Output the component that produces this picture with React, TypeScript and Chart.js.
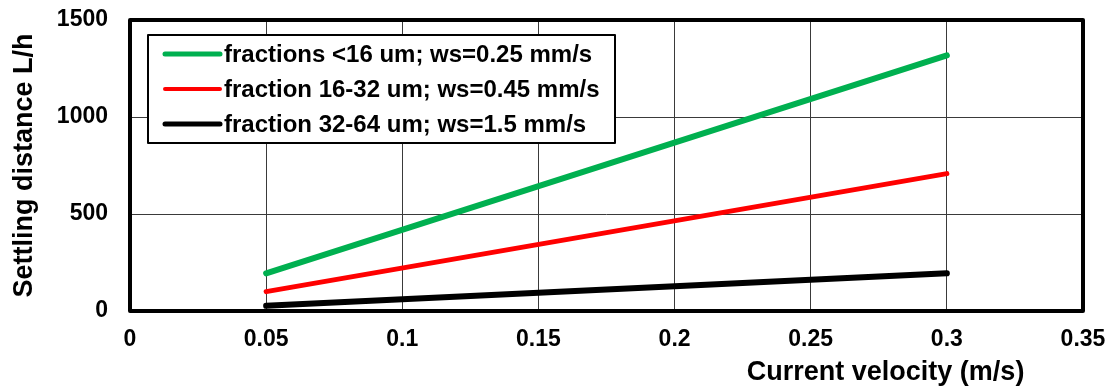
import React, { useEffect, useRef } from "react";
import { Chart, registerables } from "chart.js";

Chart.register(...registerables);

const xValues = [0.05, 0.3];
const greenValues = [194, 1318];
const redValues = [100, 708];
const blackValues = [27, 194];
const seriesLabels = [
  "fractions <16 um; ws=0.25 mm/s",
  "fraction 16-32 um; ws=0.45 mm/s",
  "fraction 32-64 um; ws=1.5 mm/s",
];
const seriesColors = ["#00B050", "#FF0000", "#000000"];
const seriesWidths = [6, 5, 6];
const xTickLabels = ["0", "0.05", "0.1", "0.15", "0.2", "0.25", "0.3", "0.35"];
const yTickLabels = ["0", "500", "1000", "1500"];
const xTitle = "Current velocity (m/s)";
const yTitle = "Settling distance L/h";

const FONT = "Arial, 'Liberation Sans', sans-serif";

const frameAndLegend = {
  id: "frameAndLegend",
  afterDraw(chart: any) {
    const { ctx, chartArea } = chart;
    ctx.save();
    // plot frame
    ctx.strokeStyle = "#000";
    ctx.lineWidth = 4;
    ctx.lineJoin = "round";
    ctx.strokeRect(
      chartArea.left,
      chartArea.top,
      chartArea.right - chartArea.left,
      chartArea.bottom - chartArea.top
    );
    // legend box
    const bx = chartArea.left + 18;
    const by = chartArea.top + 15;
    const bw = 467;
    const bh = 108;
    ctx.fillStyle = "#fff";
    ctx.fillRect(bx, by, bw, bh);
    ctx.lineWidth = 2;
    ctx.strokeRect(bx, by, bw, bh);
    ctx.font = `bold 24px ${FONT}`;
    ctx.textBaseline = "middle";
    ctx.textAlign = "left";
    ctx.lineCap = "round";
    chart.data.datasets.forEach((ds: any, i: number) => {
      const y = by + 19 + i * 35;
      ctx.strokeStyle = ds.borderColor;
      ctx.lineWidth = ds.borderWidth - 1;
      ctx.beginPath();
      ctx.moveTo(bx + 17, y);
      ctx.lineTo(bx + 72, y);
      ctx.stroke();
      ctx.fillStyle = "#000";
      ctx.fillText(ds.label, bx + 76, y + 1);
    });
    // x title
    ctx.font = `bold 27px ${FONT}`;
    ctx.textAlign = "center";
    ctx.textBaseline = "alphabetic";
    ctx.fillStyle = "#000";
    const xs = chart.scales.x;
    ctx.fillText(xTitle, xs.getPixelForValue(0.2775), chartArea.bottom + 69);
    ctx.restore();
  },
};

export default function App() {
  const ref = useRef<HTMLCanvasElement | null>(null);
  useEffect(() => {
    document.body.style.margin = "0";
    const datasets = [greenValues, redValues, blackValues].map((vals, i) => ({
      label: seriesLabels[i],
      data: xValues.map((x, j) => ({ x, y: vals[j] })),
      borderColor: seriesColors[i],
      backgroundColor: seriesColors[i],
      borderWidth: seriesWidths[i],
      borderCapStyle: "round" as const,
      pointRadius: 0,
      fill: false,
      tension: 0,
    }));
    const chart = new Chart(ref.current!, {
      type: "line",
      data: { datasets },
      options: {
        animation: false,
        responsive: true,
        maintainAspectRatio: false,
        layout: { padding: { top: 20, right: 29, left: 0, bottom: 0 } },
        plugins: { legend: { display: false }, tooltip: { enabled: false } },
        scales: {
          x: {
            type: "linear",
            min: 0,
            max: 0.35,
            afterFit: (s: any) => {
              s.height = 76;
            },
            afterBuildTicks: (s: any) => {
              s.ticks = xTickLabels.map((_, i) => ({ value: i * 0.05 }));
            },
            ticks: {
              callback: (_v: any, i: number) => xTickLabels[i],
              color: "#000",
              font: { family: FONT, size: 23, weight: "bold" },
              padding: 0,
              maxRotation: 0,
              autoSkip: false,
            },
            grid: {
              color: "#3a3a3a",
              lineWidth: 1,
              drawTicks: true,
              tickLength: 15,
              tickColor: "rgba(0,0,0,0)",
            },
            border: { display: false },
          },
          y: {
            type: "linear",
            min: 0,
            max: 1500,
            afterFit: (s: any) => {
              s.width = 130;
            },
            afterBuildTicks: (s: any) => {
              s.ticks = yTickLabels.map((t) => ({ value: Number(t) }));
            },
            ticks: {
              callback: (_v: any, i: number) => yTickLabels[i],
              color: "#000",
              font: { family: FONT, size: 23, weight: "bold" },
              padding: 0,
            },
            title: {
              display: true,
              text: yTitle,
              color: "#000",
              font: { family: FONT, size: 27, weight: "bold" },
              padding: { top: 8, bottom: 0 },
            },
            grid: {
              color: "#3a3a3a",
              lineWidth: 1,
              drawTicks: true,
              tickLength: 22,
              tickColor: "rgba(0,0,0,0)",
            },
            border: { display: false },
          },
        },
      },
      plugins: [frameAndLegend],
    });
    return () => chart.destroy();
  }, []);
  return (
    <div style={{ width: 1112, height: 387, position: "relative" }}>
      <canvas ref={ref} />
    </div>
  );
}
